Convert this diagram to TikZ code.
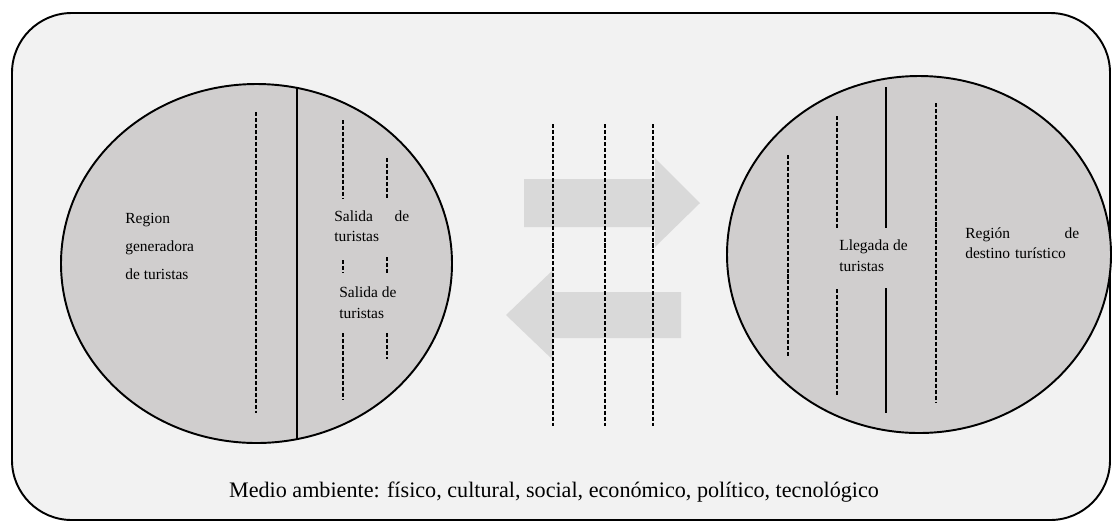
\documentclass[tikz,border=0pt]{standalone}
\usepackage{fontspec}
\setmainfont{Liberation Serif}
\definecolor{bgGray}{HTML}{F2F2F2}
\definecolor{regionGray}{HTML}{D0CECE}
\definecolor{flowGray}{HTML}{D9D9D9}
\tikzset{
  border/.style={draw=black,line width=1.1pt},
  dashline/.style={draw=black,line width=1.1pt,dash pattern=on 2.3pt off 1.1pt},
  fullline/.style={draw=black,line width=1.1pt},
  lbl/.style={font=\fontsize{8.8}{11.5}\selectfont,align=left,inner sep=0pt,anchor=base west},
}

\begin{document}
\begin{tikzpicture}[x=0.02cm,y=-0.02cm]
\useasboundingbox (0,0) rectangle (1112,522);
% Environment
\path[border,fill=bgGray,rounded corners=34pt] (12,13) rectangle (1110,520);
\node (medio) at (554,492) {\fontsize{12.6}{14}\selectfont Medio ambiente: físico, cultural, social, económico, político, tecnológico};
% Generating region
\path[border,fill=regionGray] (256.5,263.5) ellipse [x radius=195.5,y radius=179.5];
\begin{scope}
\clip (256.5,263.5) ellipse [x radius=195.5,y radius=179.5];
\path[fullline] (297,70) -- (297,460);
\end{scope}
\path[dashline] (256,112) -- (256,413);
\path[dashline] (343,120) -- (343,198) (343,260) -- (343,273) (343,333) -- (343,400);
\path[dashline] (387,158) -- (387,198) (387,257) -- (387,273) (387,333) -- (387,359);
\node[lbl,font=\fontsize{8.8}{15.8}\selectfont] (generadora) at (125,279) {Region\\generadora\\de turistas};
\node[lbl,text width=75*0.569pt] (salida1) at (334,221) {Salida\hfill de\\turistas};
\node[lbl] (salida2) at (339,318) {Salida de\\turistas};
% Transit route
\path[fill=flowGray] (524,179) -- (655,179) -- (655,158) -- (700,203) -- (655,247) -- (655,227) -- (524,227) -- cycle;
\path[fill=flowGray] (681,292) -- (553,292) -- (553,270) -- (506,315) -- (553,360) -- (553,338) -- (681,338) -- cycle;
\foreach \x in {553,605,653}{
\path[dashline] (\x,124) -- (\x,426);
}
% Destination region
\path[border,fill=regionGray] (919,254.5) ellipse [x radius=192,y radius=178.5];
\path[dashline] (788,155) -- (788,357);
\path[dashline] (837,116) -- (837,228) (837,289) -- (837,395);
\path[fullline] (886,87) -- (886,228) (886,288) -- (886,413);
\path[dashline] (936,103) -- (936,403);
\node[lbl] (llegada) at (839,271) {Llegada de\\turistas};
\node[lbl,text width=114*0.569pt] (destino) at (965,238) {Región\hfill de\\destino turístico};
\end{tikzpicture}
\end{document}
